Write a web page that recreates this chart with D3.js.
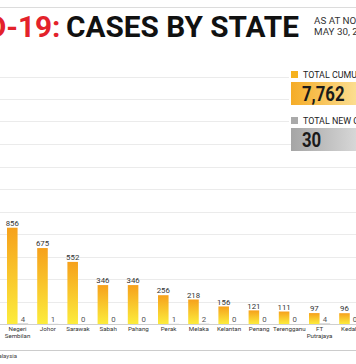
<!DOCTYPE html>
<html><head><meta charset="utf-8">
<script src="https://cdn.jsdelivr.net/npm/d3@7"></script>
<style>html,body{margin:0;padding:0;background:#fff;overflow:hidden}</style>
</head><body>
<svg id="c" width="356" height="364" xmlns="http://www.w3.org/2000/svg"></svg>
<script>
// ---- data ----
const states = ["Negeri Sembilan","Johor","Sarawak","Sabah","Pahang","Perak","Melaka","Kelantan","Penang","Terengganu","FT Putrajaya","Kedah"];
const cumulativeCases = [856,675,552,346,346,256,218,156,121,111,97,96];
const newCases = [4,1,0,0,0,1,2,0,0,0,4,0];
const yTicks = [200,400,600,800,1000,1200,1400,1600,1800,2000,2200];
const seriesKeys = ["cumulative","new"];
const titleRed = "COVID-19:";
const titleBlack = "CASES BY STATE";
const subtitleLines = ["AS AT NOON,", "MAY 30, 2020"];
const legendLabels = ["TOTAL CUMULATIVE CASES","TOTAL NEW CASES"];
const legendTotals = ["7,762","30"];
const sourceText = "Source: Ministry of Health Malaysia";

// ---- drawing ----
const svg = d3.select("#c");
const W = 356;
const FONT = "Roboto, 'Noto Sans', sans-serif";

const defs = svg.append("defs");
const gBar = defs.append("linearGradient").attr("id","gBar").attr("x1",0).attr("y1",0).attr("x2",0).attr("y2",1);
gBar.append("stop").attr("offset","0%").attr("stop-color","#f6a11c");
gBar.append("stop").attr("offset","100%").attr("stop-color","#fcec3c");
const gOr = defs.append("linearGradient").attr("id","gOr").attr("x1",0).attr("y1",0).attr("x2",1).attr("y2",0);
gOr.append("stop").attr("offset","0%").attr("stop-color","#f5ac27");
gOr.append("stop").attr("offset","100%").attr("stop-color","#fde9a8");
const gGr = defs.append("linearGradient").attr("id","gGr").attr("x1",0).attr("y1",0).attr("x2",1).attr("y2",0);
gGr.append("stop").attr("offset","0%").attr("stop-color","#a5a5a5");
gGr.append("stop").attr("offset","100%").attr("stop-color","#e2e2e2");

const y = d3.scaleLinear().domain([0,2200]).range([324,76.5]);
const x = d3.scaleBand().domain(states).range([2.47, 364.87]).paddingInner(0.3).paddingOuter(0.15);
const xs = d3.scaleBand().domain(seriesKeys).range([0, x.bandwidth()]).padding(0);

// top rule
svg.append("line").attr("x1",0).attr("x2",W).attr("y1",7.5).attr("y2",7.5)
  .attr("stroke","#dcdcdc").attr("stroke-width",1);

// gridlines
svg.append("g").selectAll("line").data(yTicks).join("line")
  .attr("x1",0).attr("x2",W)
  .attr("y1",d=>Math.round(y(d))+0.5).attr("y2",d=>Math.round(y(d))+0.5)
  .attr("stroke","#ebebeb").attr("stroke-width",1);

// baseline
svg.append("line").attr("x1",0).attr("x2",W).attr("y1",Math.round(y(0))+0.5).attr("y2",Math.round(y(0))+0.5)
  .attr("stroke","#cfcfcf").attr("stroke-width",1);

// bars
const groups = svg.append("g").selectAll("g").data(states).join("g")
  .attr("transform",d=>`translate(${x(d)},0)`);

groups.append("rect")
  .attr("x",xs("cumulative")).attr("width",xs.bandwidth())
  .attr("y",(d,i)=>y(cumulativeCases[i])).attr("height",(d,i)=>y(0)-y(cumulativeCases[i]))
  .attr("fill","url(#gBar)");
groups.append("rect")
  .attr("x",xs("new")).attr("width",xs.bandwidth())
  .attr("y",(d,i)=>y(newCases[i])).attr("height",(d,i)=>y(0)-y(newCases[i]))
  .attr("fill","#b0b0b0");

groups.append("text")
  .attr("x",xs("cumulative")+xs.bandwidth()/2)
  .attr("y",(d,i)=>y(cumulativeCases[i])-1.8)
  .attr("text-anchor","middle").attr("font-family",FONT).attr("font-size",7.8).attr("fill","#333")
  .text((d,i)=>cumulativeCases[i]);
groups.append("text")
  .attr("x",xs("new")+xs.bandwidth()/2)
  .attr("y",(d,i)=>y(newCases[i])-2)
  .attr("text-anchor","middle").attr("font-family",FONT).attr("font-size",7.8).attr("fill","#555")
  .text((d,i)=>newCases[i]);

// category axis
const ax = svg.append("g").attr("transform",`translate(0,${y(0)})`)
  .call(d3.axisBottom(x).tickSize(0).tickPadding(0));
ax.select(".domain").remove();
ax.selectAll("text").attr("font-family",FONT).attr("font-size",6.2).attr("fill","#333")
  .attr("dy",null).attr("y",0)
  .each(function(d){
    const t = d3.select(this); const words = d.split(" ");
    t.text(null);
    words.forEach((w,k)=>t.append("tspan").attr("x",0).attr("y",7.2+k*6.6).text(w));
  });

// bottom rule & source
svg.append("line").attr("x1",0).attr("x2",W).attr("y1",350.5).attr("y2",350.5)
  .attr("stroke","#cccccc").attr("stroke-width",1);
svg.append("text").attr("x",17).attr("y",357.5).attr("text-anchor","end")
  .attr("font-family",FONT).attr("font-size",6).attr("fill","#444").text(sourceText);

// title (condensed bold)
const tB = svg.append("text").attr("font-family",FONT).attr("font-weight",700).attr("font-size",30)
  .attr("fill","#111").text(titleBlack);
const natB = tB.node().getComputedTextLength();
const f = 233/natB;
tB.attr("transform",`translate(66,36.5) scale(${f},1)`);
svg.append("text").attr("font-family",FONT).attr("font-weight",700).attr("font-size",30)
  .attr("fill","#e3222b").attr("text-anchor","end").text(titleRed)
  .attr("transform",`translate(60.5,36.5) scale(${f},1)`);

svg.selectAll(".sub").data(subtitleLines).join("text")
  .attr("x",314).attr("y",(d,i)=>24+i*11)
  .attr("font-family",FONT).attr("font-size",9.8).attr("fill","#333").text(d=>d);

// legend
svg.append("rect").attr("x",289).attr("y",66).attr("width",70).attr("height",60).attr("fill","#fff");
const legColors = ["#f6b21e","#aaaaaa"];
const legFills = ["url(#gOr)","url(#gGr)"];
const legY = [71, 117];
legendLabels.forEach((lab,i)=>{
  svg.append("rect").attr("x",291).attr("y",legY[i]).attr("width",7).attr("height",7).attr("fill",legColors[i]);
  svg.append("text").attr("font-family",FONT).attr("font-size",8.9).attr("fill","#222")
    .attr("x",303).attr("y",legY[i]+7).text(lab);
  svg.append("rect").attr("x",291).attr("y",legY[i]+11).attr("width",80).attr("height",23).attr("fill",legFills[i]);
  const tt = svg.append("text").attr("font-family",FONT).attr("font-weight",700).attr("font-size",19.5)
    .attr("fill","#1a1a1a").text(legendTotals[i]);
  tt.attr("transform",`translate(302,${legY[i]+29.5}) scale(0.86,1)`);
});
</script>
</body></html>
